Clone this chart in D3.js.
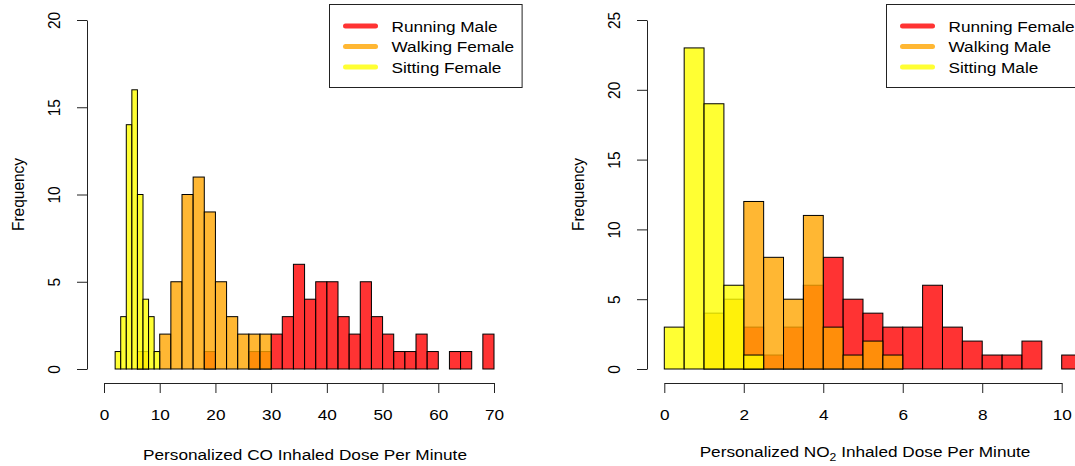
<!DOCTYPE html>
<html>
<head>
<meta charset="utf-8">
<script src="https://cdn.jsdelivr.net/npm/d3@7"></script>
<style>
  body { margin: 0; background: #fff; }
  svg text { font-family: "Liberation Sans", Arial, Helvetica, sans-serif; fill: #000; }
</style>
</head>
<body>
<svg id="chart" width="1075" height="466"></svg>
<script>
// ---- CO inhaled dose per minute (left panel) ----
const coSeriesNames = ["Running Male", "Walking Female", "Sitting Female"];
const coRunningMaleBreakStart = 18, coRunningMaleBinWidth = 2;
const coRunningMaleCounts = [1, 0, 0, 0, 1, 1, 2, 3, 6, 4, 5, 5, 3, 2, 5, 3, 2, 1, 1, 2, 1, 0, 1, 1, 0, 2];
const coWalkingFemaleBreakStart = 6, coWalkingFemaleBinWidth = 2;
const coWalkingFemaleCounts = [1, 0, 2, 5, 10, 11, 9, 5, 3, 2, 2, 2];
const coSittingFemaleBreakStart = 2, coSittingFemaleBinWidth = 1;
const coSittingFemaleCounts = [1, 3, 14, 16, 10, 4, 3, 1];
const coXTicks = [0, 10, 20, 30, 40, 50, 60, 70];
const coYTicks = [0, 5, 10, 15, 20];

// ---- NO2 inhaled dose per minute (right panel) ----
const no2SeriesNames = ["Running Female", "Walking Male", "Sitting Male"];
const no2RunningFemaleBreakStart = 2, no2RunningFemaleBinWidth = 0.5;
const no2RunningFemaleCounts = [3, 1, 3, 6, 8, 5, 4, 3, 3, 6, 3, 2, 1, 1, 2, 0, 1];
const no2WalkingMaleBreakStart = 1, no2WalkingMaleBinWidth = 0.5;
const no2WalkingMaleCounts = [4, 5, 12, 8, 5, 11, 3, 1, 2, 1];
const no2SittingMaleBreakStart = 0, no2SittingMaleBinWidth = 0.5;
const no2SittingMaleCounts = [3, 23, 19, 6, 1];
const no2XTicks = [0, 2, 4, 6, 8, 10];
const no2YTicks = [0, 5, 10, 15, 20, 25];

// Semi-transparent fills, drawn red -> orange -> yellow so overlaps blend
const seriesColors = ["#ff0000", "#ffa500", "#ffff00"];
const fillAlpha = 0.8;

const FS = 15.5;   // font size
const SX = 1.11;   // horizontal text stretch

const svg = d3.select("#chart");

function hist(start, width, counts) {
  return counts.map((c, i) => ({ x0: start + i * width, x1: start + (i + 1) * width, n: c }));
}

function panel(cfg) {
  const x = d3.scaleLinear().domain(cfg.xDomain).range(cfg.xRange);
  const y = d3.scaleLinear().domain(cfg.yDomain).range([369, 20]);
  const g = svg.append("g");

  // histograms
  cfg.series.forEach((bins, k) => {
    g.append("g").selectAll("rect").data(bins).join("rect")
      .attr("x", d => x(d.x0))
      .attr("width", d => x(d.x1) - x(d.x0))
      .attr("y", d => y(d.n))
      .attr("height", d => y(0) - y(d.n))
      .attr("fill", seriesColors[k])
      .attr("fill-opacity", fillAlpha)
      .attr("stroke", "#000")
      .attr("stroke-width", 1);
  });

  // x axis
  const gx = g.append("g")
    .attr("transform", "translate(0,383)")
    .style("color", "#222")
    .call(d3.axisBottom(x).tickValues(cfg.xTicks).tickSize(10).tickSizeOuter(0).tickFormat(d3.format("d")));
  gx.attr("font-size", null).attr("font-family", null);
  gx.selectAll(".tick text")
    .attr("y", null).attr("dy", null)
    .style("font-size", FS + "px")
    .attr("transform", `translate(0,37) scale(${SX},1)`);

  // y axis
  const gy = g.append("g")
    .attr("transform", `translate(${cfg.yAxisX},0)`)
    .style("color", "#222")
    .call(d3.axisLeft(y).tickValues(cfg.yTicks).tickSize(10).tickSizeOuter(0).tickFormat(d3.format("d")));
  gy.attr("font-size", null).attr("font-family", null);
  gy.selectAll(".tick text")
    .attr("x", null).attr("dy", null)
    .attr("text-anchor", "middle")
    .style("font-size", FS + "px")
    .attr("transform", `translate(-27,0) scale(${SX},1) rotate(-90)`);

  // axis titles
  g.append("text")
    .attr("text-anchor", "middle")
    .style("font-size", FS + "px")
    .attr("transform", `translate(${cfg.yAxisX - 63},194.5) scale(${SX},1) rotate(-90)`)
    .text("Frequency");

  const xt = g.append("text")
    .attr("text-anchor", "middle")
    .style("font-size", FS + "px")
    .attr("transform", `translate(${cfg.xTitleX},${cfg.xTitleY}) scale(${SX},1)`);
  cfg.xTitle(xt);

  // legend
  const lg = g.append("g").attr("transform", `translate(${cfg.legendX},0)`);
  const rows = [26, 46.5, 67];
  const texts = lg.selectAll("text").data(cfg.names).join("text")
    .style("font-size", FS + "px")
    .attr("transform", (d, i) => `translate(62,${rows[i] + 5.6}) scale(${SX},1)`)
    .text(d => d);
  let maxW = 0;
  texts.each(function () { maxW = Math.max(maxW, this.getComputedTextLength()); });
  lg.insert("rect", "text")
    .attr("x", 0).attr("y", 4.5)
    .attr("width", 62 + maxW * SX + 8)
    .attr("height", 83)
    .attr("fill", "#fff")
    .attr("stroke", "#222")
    .attr("stroke-width", 1);
  lg.selectAll("line").data(cfg.names).join("line")
    .attr("x1", 16).attr("x2", 46)
    .attr("y1", (d, i) => rows[i]).attr("y2", (d, i) => rows[i])
    .attr("stroke", (d, i) => seriesColors[i])
    .attr("stroke-opacity", fillAlpha)
    .attr("stroke-width", 5)
    .attr("stroke-linecap", "round");
}

panel({
  xDomain: [0, 70], xRange: [104, 494], yDomain: [0, 20],
  xTicks: coXTicks, yTicks: coYTicks, yAxisX: 87,
  series: [
    hist(coRunningMaleBreakStart, coRunningMaleBinWidth, coRunningMaleCounts),
    hist(coWalkingFemaleBreakStart, coWalkingFemaleBinWidth, coWalkingFemaleCounts),
    hist(coSittingFemaleBreakStart, coSittingFemaleBinWidth, coSittingFemaleCounts)
  ],
  names: coSeriesNames,
  legendX: 329.5,
  xTitleX: 305, xTitleY: 460,
  xTitle: t => t.text("Personalized CO Inhaled Dose Per Minute")
});

panel({
  xDomain: [0, 10], xRange: [664.3, 1061.7], yDomain: [0, 25],
  xTicks: no2XTicks, yTicks: no2YTicks, yAxisX: 647,
  series: [
    hist(no2RunningFemaleBreakStart, no2RunningFemaleBinWidth, no2RunningFemaleCounts),
    hist(no2WalkingMaleBreakStart, no2WalkingMaleBinWidth, no2WalkingMaleCounts),
    hist(no2SittingMaleBreakStart, no2SittingMaleBinWidth, no2SittingMaleCounts)
  ],
  names: no2SeriesNames,
  legendX: 886.5,
  xTitleX: 865, xTitleY: 456.5,
  xTitle: t => {
    t.append("tspan").text("Personalized NO");
    t.append("tspan").attr("dy", 4).style("font-size", "11px").text("2");
    t.append("tspan").attr("dy", -4).text(" Inhaled Dose Per Minute");
  }
});
</script>
</body>
</html>
